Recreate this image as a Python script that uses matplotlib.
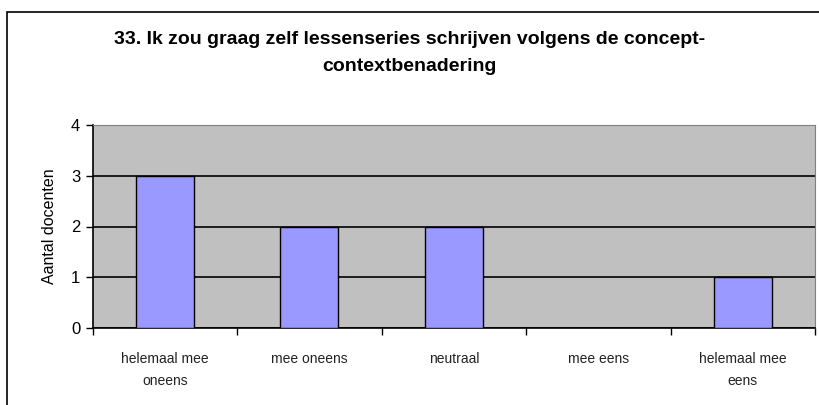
import matplotlib.pyplot as plt
from matplotlib.patches import Rectangle

categories = ['helemaal mee\noneens', 'mee oneens', 'neutraal', 'mee eens', 'helemaal mee\neens']
counts = [3, 2, 2, 0, 1]
title = '33. Ik zou graag zelf lessenseries schrijven volgens de concept-\ncontextbenadering'
ylabel = 'Aantal docenten'

plt.rcParams['font.family'] = ['Liberation Sans', 'DejaVu Sans']

fig = plt.figure(figsize=(8.19, 4.05), dpi=100)
fig.patch.set_facecolor('white')

# outer chart frame (runs off the right and bottom edges)
fig.patches.append(Rectangle((7 / 819, -0.05), 1.2, 1 - 12 / 405 + 0.05,
                             transform=fig.transFigure, fill=False,
                             edgecolor='black', linewidth=1.2))

ax = fig.add_axes([92.7 / 819, 1 - 328 / 405, (815 - 92.7) / 819, (328 - 125) / 405])
ax.set_facecolor('#C0C0C0')
x = range(len(categories))
ax.bar(x, counts, width=0.4, color='#9999FF', edgecolor='black', linewidth=1, zorder=3)

ax.set_xlim(-0.5, len(categories) - 0.5)
ax.set_ylim(0, 4)
ax.set_yticks([0, 1, 2, 3, 4])
ax.yaxis.grid(True, color='black', linewidth=1.2)
ax.set_axisbelow(True)

ax.set_xticks([i - 0.5 for i in range(len(categories) + 1)])
ax.set_xticklabels([])
ax.set_xticks(list(x), minor=True)
ax.set_xticklabels(categories, minor=True, fontsize=10, color='#222222', linespacing=1.75)
ax.tick_params(axis='x', which='minor', length=0, pad=17)
ax.tick_params(axis='x', which='major', length=5, direction='out', width=1)
ax.tick_params(axis='y', length=5, direction='out', width=1, labelsize=12, pad=4)

for s in ['top', 'right']:
    ax.spines[s].set_color('#808080')
for s in ['left', 'bottom']:
    ax.spines[s].set_color('black')
    ax.spines[s].set_linewidth(1.2)

ax.set_ylabel(ylabel, fontsize=11.5, labelpad=10)

fig.text(0.5, 1 - 53 / 405, title, ha='center', va='center', fontsize=14,
         fontweight='bold', linespacing=1.75)

fig.savefig('out.png', dpi=100)
